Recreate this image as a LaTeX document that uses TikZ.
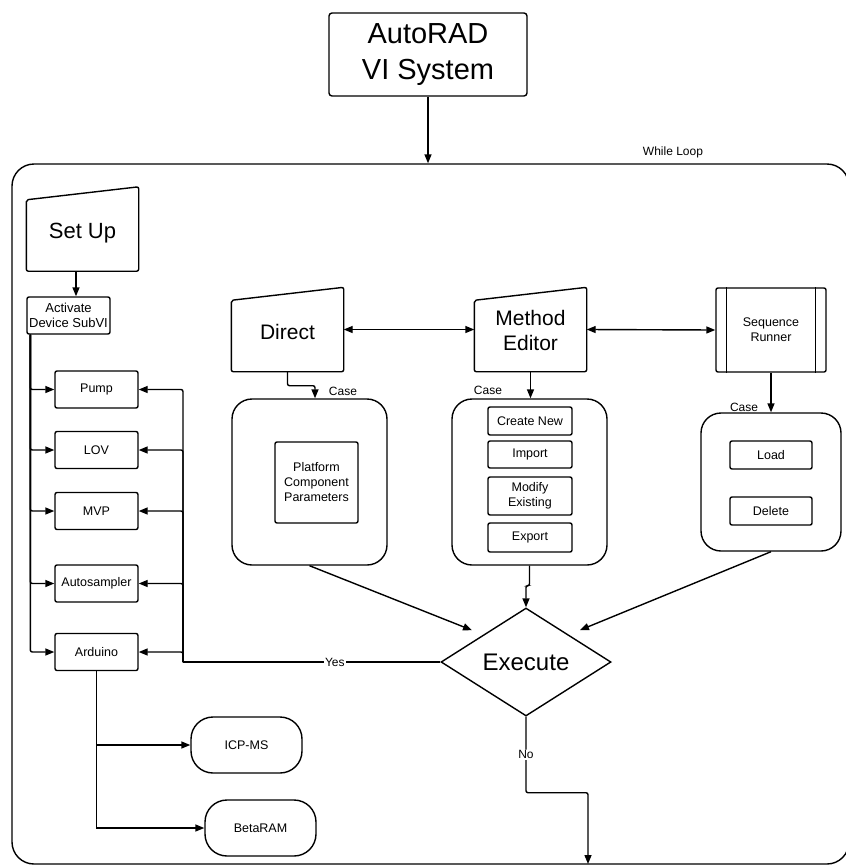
\documentclass[tikz,border=0pt]{standalone}
\usepackage{fontspec}
\setmainfont{Liberation Sans}
\usetikzlibrary{arrows.meta, positioning, calc, shapes.geometric}

% manual input shape drawn round a plain node
\newcommand{\manin}[1]{%
  \draw[rounded corners=2pt] ($(#1.north west)+(0,13)$) -- (#1.north east)
    -- (#1.south east) -- (#1.south west) -- cycle;}

\begin{document}
\begin{tikzpicture}[x=1pt, y=-1pt, line width=1.4pt,
  box/.style={draw, rounded corners=2pt, align=center, inner sep=2pt},
  small/.style={font=\fontsize{12.5}{15}\selectfont},
  dev/.style={box, small, minimum width=83pt, minimum height=37pt},
  sub/.style={box, small, minimum width=84pt},
  casebox/.style={draw, rounded corners=20pt, minimum width=155pt, minimum height=166pt},
  manual/.style={minimum width=111pt, minimum height=83pt, align=center, font=\fontsize{21}{25}\selectfont},
  term/.style={draw, small, rounded corners=22pt, minimum width=111pt, minimum height=56pt},
  lbl/.style={font=\fontsize{12}{14}\selectfont},
  arr/.style={-{Triangle[length=9pt,width=7pt]}},
  darr/.style={{Triangle[length=9pt,width=7pt]}-{Triangle[length=9pt,width=7pt]}}]

  \useasboundingbox (0,0) rectangle (846,865);

  % While loop
  \node[draw, rounded corners=22pt, minimum width=837pt, minimum height=700pt] (loop) at (430.5,514) {};
  \node[lbl, anchor=south] (wl) at (673,162) {While Loop};

  \node[box, rounded corners=3pt, minimum width=198pt, minimum height=83pt,
        font=\fontsize{29}{36}\selectfont] (vi) at (428,54.5) {AutoRAD\\VI System};
  \draw[arr] (vi.south) -- (vi.south |- loop.north);

  % Set up and devices
  \node[manual, font=\fontsize{22}{26}\selectfont, text height=23pt] (su) at (82.5,229) {Set Up};
  \manin{su}
  \node[dev, font=\fontsize{13}{15}\selectfont] (act) at (68.5,315.5) {Activate\\Device SubVI};
  \draw[arr] ([xshift=-6.5pt]su.south) -- ([xshift=-6.5pt]su.south |- act.north);

  \node[dev] (pump) at (96.5,389.5) {Pump};
  \node[dev] (lov) at (96.5,450) {LOV};
  \node[dev] (mvp) at (96.5,511) {MVP};
  \node[dev] (auto) at (96.5,583.5) {Autosampler};
  \node[dev] (ard) at (96.5,652) {Arduino};
  \foreach \n in {pump,lov,mvp,auto,ard}
    \draw[arr, rounded corners=2pt] ([xshift=4pt]act.south west) |- (\n.west);

  \node[term] (icp) at (246.5,745) {ICP-MS};
  \node[term] (beta) at (260.5,828) {BetaRAM};
  \draw[arr] (ard.south) |- (icp.west);
  \draw[arr] (ard.south) |- (beta.west);

  % Direct, Method Editor, Sequence Runner
  \node[manual, text height=21pt] (dir) at (287.5,329.5) {Direct};
  \manin{dir}
  \node[manual, text height=43pt] (me) at (530.5,329.5) {Method\\Editor};
  \manin{me}
  \node[box, small, minimum width=110pt, minimum height=84pt] (sr) at (771,330) {Sequence\\Runner};
  \draw ([xshift=11pt]sr.north west) -- ([xshift=11pt]sr.south west);
  \draw ([xshift=-11pt]sr.north east) -- ([xshift=-11pt]sr.south east);
  \draw[darr] (dir.east) -- (me.west);
  \draw[darr] (me.east) -- (sr.west);

  % Cases
  \node[casebox] (dcase) at (309.5,482) {};
  \node[box, small, minimum width=83pt, minimum height=81pt] (pcp) at (316.5,482.5) {Platform\\Component\\Parameters};
  \node[casebox] (mcase) at (529.5,482) {};
  \node[sub, minimum height=28pt] (new) at (530,421) {Create New};
  \node[sub, minimum height=27pt] (imp) at (530,454.5) {Import};
  \node[sub, minimum height=38pt] (mod) at (530,496) {Modify\\Existing};
  \node[sub, minimum height=29pt] (expo) at (530,537.5) {Export};
  \node[casebox, minimum width=140pt, minimum height=138pt] (scase) at (771,482) {};
  \node[sub, minimum width=82pt, minimum height=28pt] (load) at (771,455) {Load};
  \node[sub, minimum width=82pt, minimum height=28pt] (del) at (771,511) {Delete};

  \draw[arr, rounded corners=2pt] (dir.south) -- ++(0,14) -| ([xshift=5.5pt]dcase.north);
  \node[lbl] (c1) at (343,391) {Case};
  \draw[arr] (me.south) -- (me.south |- mcase.north);
  \node[lbl] (c2) at (488,390) {Case};
  \draw[arr] (sr.south) -- (scase.north);
  \node[lbl] (c3) at (744,407) {Case};

  % Execute
  \node[diamond, draw, aspect=1.57, minimum width=170pt, minimum height=108pt, inner sep=0pt,
        font=\fontsize{24}{28}\selectfont] (ex) at (526,662) {Execute};
  \draw[arr, shorten >=12pt] (dcase.south) -- (ex.north west);
  \draw[arr, rounded corners=2pt] (mcase.south) -- ++(0,20) -| (ex.north);
  \draw[arr, shorten >=12pt] (scase.south) -- (ex.north east);

  \coordinate (yes) at (183,662);
  \draw (ex.west) -- node[lbl, fill=white, inner sep=1pt, pos=0.41] {Yes} (yes);
  \foreach \n in {pump,lov,mvp,auto,ard}
    \draw[arr, rounded corners=2pt] (yes) |- (\n.east);

  \coordinate (out) at (588,864);
  \draw[arr, rounded corners=2pt] (ex.south) -- node[lbl, fill=white, inner sep=1pt] {No} ++(0,76) -| (out);
\end{tikzpicture}
\end{document}
